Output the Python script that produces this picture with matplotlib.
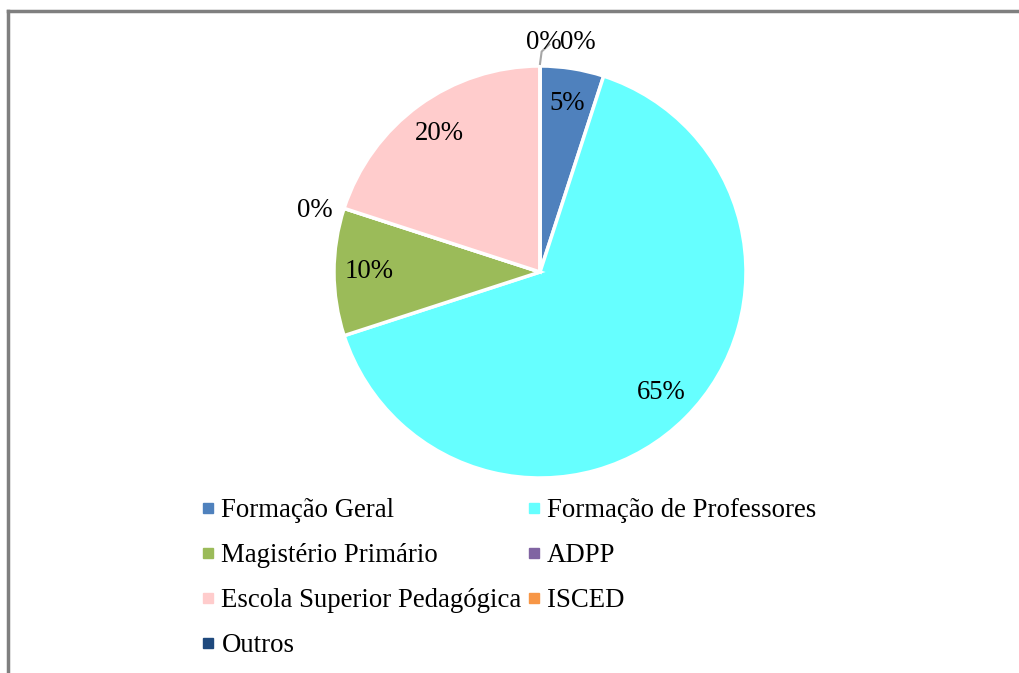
"""
Pie chart: distribution of teacher training background.
"""

import numpy as np
import matplotlib.pyplot as plt
from matplotlib.lines import Line2D

plt.rcParams['font.family'] = ['Liberation Serif', 'DejaVu Serif']

categories = ['Formação Geral', 'Formação de Professores', 'Magistério Primário',
              'ADPP', 'Escola Superior Pedagógica', 'ISCED', 'Outros']
values = [5, 65, 10, 0, 20, 0, 0]
colors = ['#4F81BD', '#66FFFF', '#9BBB59', '#8064A2', '#FFCCCC', '#F79646', '#1F497D']

FONT_SIZE = 19.3

fig = plt.figure(figsize=(10.19, 6.73), dpi=100)
W, H = 1019, 673

# pie centre (540, 272) px, radius 206 px, axes limits +-1.25
R_PX = 206
half = 1.25 * R_PX
ax = fig.add_axes([(540 - half) / W, (H - 272 - half) / H, 2 * half / W, 2 * half / H])

wedges, _ = ax.pie(values, colors=colors, startangle=90, counterclock=False,
                   radius=1, wedgeprops=dict(edgecolor='white', linewidth=2.5))
ax.set_xlim(-1.25, 1.25)
ax.set_ylim(-1.25, 1.25)
ax.set_aspect('equal')
ax.axis('off')

# percentage labels
total = sum(values)
zero_pos = []
for w, v in zip(wedges, values):
    pct = '%d%%' % round(100 * v / total)
    mid = np.deg2rad((w.theta1 + w.theta2) / 2)
    if v > 0:
        d = 0.83
        ax.text(d * np.cos(mid), d * np.sin(mid), pct, ha='center', va='center',
                fontsize=FONT_SIZE)
    else:
        zero_pos.append(mid)

# ADPP (zero slice on the left)
m = zero_pos[0]
ax.text(1.13 * np.cos(m) - 0.02, 1.13 * np.sin(m) - 0.05, '0%', ha='center', va='center',
        fontsize=FONT_SIZE, clip_on=False)
# ISCED and Outros (zero slices at the top) with leader line
m = zero_pos[1]
x0, y0 = np.cos(m), np.sin(m)
ax.plot([x0, x0 + 0.008, x0 + 0.045], [y0 + 0.01, y0 + 0.07, y0 + 0.105],
        color='#A6A6A6', lw=1.5, clip_on=False)
ax.text(x0 + 0.02, y0 + 0.115, '0%', ha='center', va='center', fontsize=FONT_SIZE,
        clip_on=False)
ax.text(x0 + 0.185, y0 + 0.115, '0%', ha='center', va='center', fontsize=FONT_SIZE,
        clip_on=False)

# legend, row-major order as in the reference
handles = [Line2D([], [], marker='s', linestyle='none', markersize=7,
                  markerfacecolor=c, markeredgecolor=c) for c in colors]
order = [0, 2, 4, 6, 1, 3, 5]
fig.legend([handles[i] for i in order], [categories[i] for i in order],
           ncol=2, loc='upper left', bbox_to_anchor=(200 / W, 1 - 498 / H),
           frameon=False, fontsize=FONT_SIZE, handlelength=0.6, handletextpad=0.2,
           columnspacing=0.15, labelspacing=0.745, borderpad=0, borderaxespad=0)

# outer frame on left and top only
fig.add_artist(Line2D([7.5 / W, 7.5 / W], [0, 1 - 11 / H], color='#7F7F7F', lw=2.5))
fig.add_artist(Line2D([7.5 / W, 1], [1 - 11 / H, 1 - 11 / H], color='#7F7F7F', lw=2.5))

plt.savefig('out.png', dpi=100)
